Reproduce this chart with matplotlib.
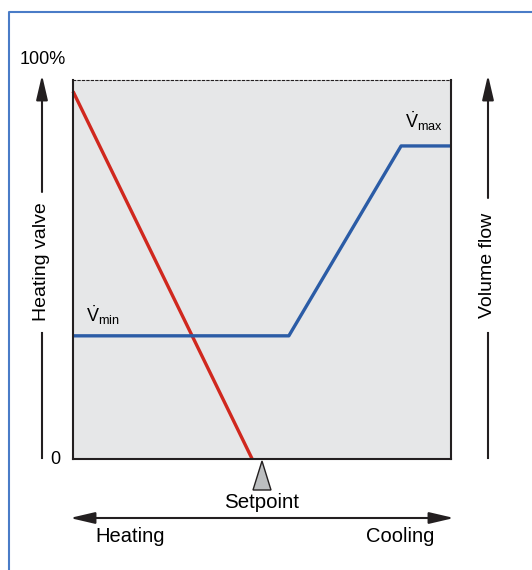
import matplotlib as mpl
import matplotlib.pyplot as plt
from matplotlib.patches import Polygon

mpl.rc("font", family=["Liberation Sans", "DejaVu Sans"])
mpl.rc("mathtext", fontset="custom", rm="Liberation Sans", it="Liberation Sans")

# control curves, x = control signal (0..100), y = output (%)
valve_x = [0, 47.4]
valve_y = [97.0, 0]
flow_x = [0, 57.1, 86.8, 100]
flow_y = [32.5, 32.5, 82.6, 82.6]
setpoint = 50

red = "#d0281e"
blue = "#2b5ca6"
W, H = 532, 570

fig = plt.figure(figsize=(W / 100, H / 100), dpi=100)

# overlay in pixel coordinates for the decorations
ov = fig.add_axes([0, 0, 1, 1])
ov.set_xlim(0, W)
ov.set_ylim(H, 0)
ov.axis("off")

# frame of the box the chart sits in
ov.plot([9, 9, W], [H, 12, 12], color="#4a7cc7", lw=1.5)

ax = fig.add_axes([73 / W, (H - 459) / H, 378 / W, 379 / H])
ax.set_xlim(0, 100)
ax.set_ylim(0, 100)
ax.set_facecolor("#e6e7e8")
ax.set_xticks([])
ax.set_yticks([])
for side in ["left", "right", "bottom"]:
    ax.spines[side].set_linewidth(1.5)
    ax.spines[side].set_color("#231f20")
ax.spines["top"].set_linestyle((0, (2, 2)))
ax.spines["top"].set_linewidth(0.8)
ax.spines["top"].set_color("#231f20")

ax.plot(valve_x, valve_y, color=red, lw=2.4, solid_capstyle="butt", clip_on=False)
ax.plot(flow_x, flow_y, color=blue, lw=2.4, solid_capstyle="butt", clip_on=False)

ax.text(3.5, 34.8, r"$\dot{V}_{\mathrm{min}}$", fontsize=13, ha="left", va="bottom")
ax.text(87.7, 86.0, r"$\dot{V}_{\mathrm{max}}$", fontsize=13, ha="left", va="bottom")

# setpoint marker
sx = 73 + setpoint / 100 * 378
ov.add_patch(Polygon([[sx, 461], [sx - 9, 490], [sx + 9, 490]], closed=True,
                     facecolor="#bcbec0", edgecolor="#231f20", lw=1))
ov.text(sx, 503, "Setpoint", fontsize=14.8, ha="center", va="center")

# heating / cooling arrow
ov.annotate("", xy=(70, 518), xytext=(454, 518),
            arrowprops=dict(arrowstyle="<|-|>,head_length=1.5,head_width=0.35",
                            color="#231f20", lw=1.5, shrinkA=0, shrinkB=0))
ov.text(95, 537, "Heating", fontsize=14.5, ha="left", va="center")
ov.text(434, 537, "Cooling", fontsize=14.5, ha="right", va="center")

# vertical axis arrows
for x, top_end, bot_start, label, mid in [(42, 192, 333, "Heating valve", 262),
                                         (488, 198, 333, "Volume flow", 265)]:
    ov.annotate("", xy=(x, 75), xytext=(x, top_end),
                arrowprops=dict(arrowstyle="-|>,head_length=1.5,head_width=0.35",
                                color="#231f20", lw=1.5, shrinkA=0, shrinkB=0))
    ov.plot([x, x], [bot_start, 458], color="#231f20", lw=1.5)
    ov.text(x, mid, label, fontsize=14, rotation=90, ha="center", va="center")

ov.text(20, 60, "100%", fontsize=13, ha="left", va="center")
ov.text(55, 460, "0", fontsize=13, ha="center", va="center")

fig.savefig("out.png", dpi=100)
